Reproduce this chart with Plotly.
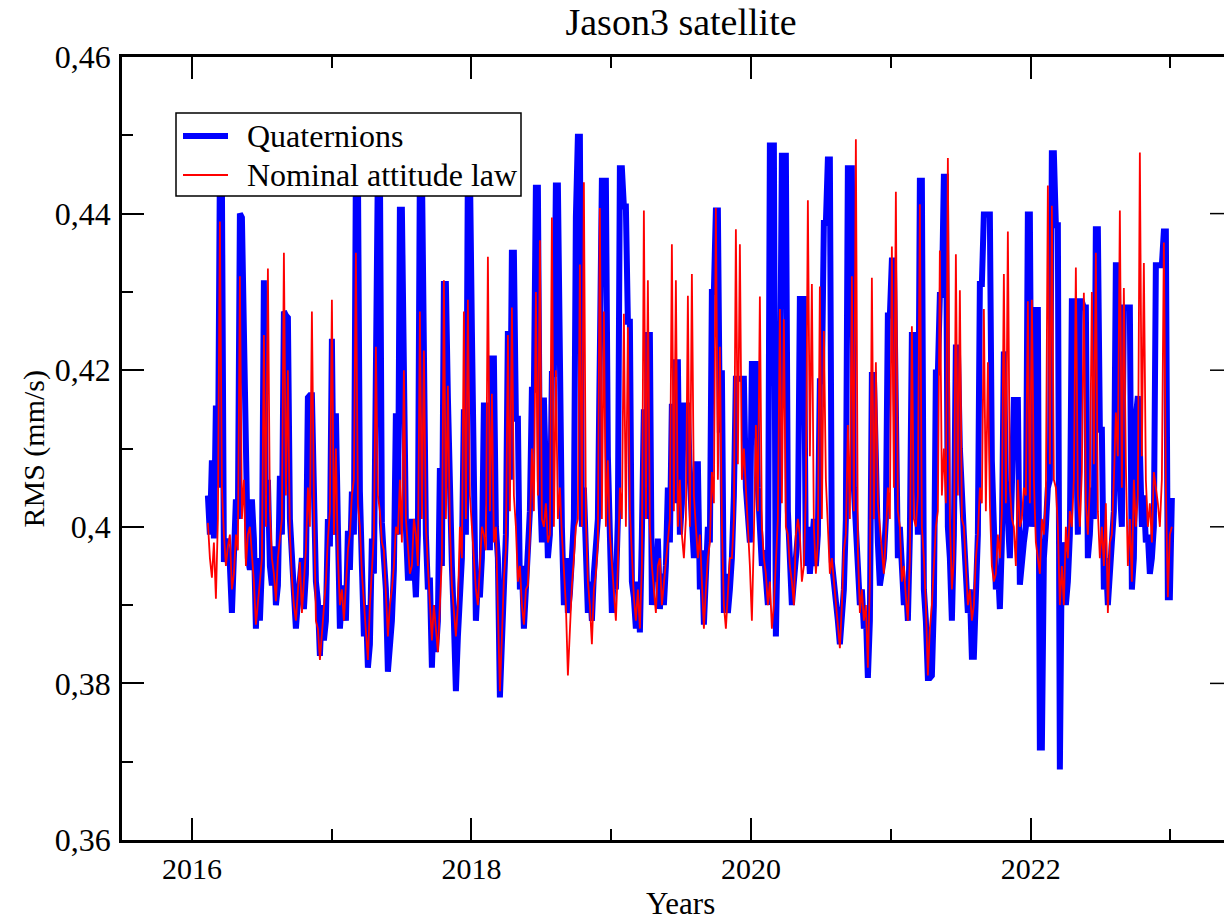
import plotly.graph_objects as go
import numpy as np

# ---- data ----
T_START = 2016.1145          # first sample (decimal year)
T_STEP = 0.014306            # sampling step (decimal year)

# samples at even slots (t = T_START + 2k*T_STEP)
quat_even = [
    0.4040, 0.4085, 0.4155, 0.4460, 0.3955, 0.3960, 0.3890, 0.4035, 0.4400, 0.4250,
    0.3960, 0.4035, 0.3870, 0.3880, 0.4315, 0.4060, 0.3925, 0.3900, 0.4065, 0.4275,
    0.4267, 0.3960, 0.3870, 0.3935, 0.3895, 0.4165, 0.4168, 0.3930, 0.3835, 0.3855,
    0.4010, 0.4240, 0.4145, 0.3870, 0.3925, 0.3995, 0.4045, 0.4460, 0.4045, 0.3860,
    0.3820, 0.3985, 0.4250, 0.4460, 0.3960, 0.3815, 0.3880, 0.4145, 0.4405, 0.4150,
    0.3935, 0.4010, 0.3910, 0.4460, 0.4120, 0.3920, 0.3820, 0.3840, 0.4075, 0.4310,
    0.4165, 0.3950, 0.3790, 0.3930, 0.4150, 0.4460, 0.4250, 0.3880, 0.3910, 0.4155,
    0.4050, 0.4215, 0.4000, 0.3782, 0.3930, 0.4250, 0.4350, 0.4138, 0.3920, 0.3870,
    0.3950, 0.4175, 0.4433, 0.4060, 0.4165, 0.3960, 0.4195, 0.4436, 0.4110, 0.3900,
    0.3890, 0.3960, 0.4396, 0.4498, 0.4050, 0.3890, 0.3880, 0.3990, 0.4224, 0.4442,
    0.4090, 0.3890, 0.3920, 0.4458, 0.4409, 0.4262, 0.3930, 0.3870, 0.3865, 0.4150,
    0.4245, 0.3900, 0.3930, 0.3895, 0.3900, 0.4050, 0.4157, 0.4210, 0.3990, 0.4155,
    0.4155, 0.4010, 0.4080, 0.3920, 0.3875, 0.4000, 0.4300, 0.4404, 0.4120, 0.3890,
    0.3890, 0.3960, 0.4189, 0.4189, 0.4189, 0.4000, 0.4208, 0.4208, 0.4000, 0.3970,
    0.3900, 0.4487, 0.3860, 0.4140, 0.4474, 0.4020, 0.3900, 0.3960, 0.4291, 0.4291,
    0.4000, 0.3980, 0.3950, 0.4186, 0.4388, 0.4469, 0.3955, 0.3900, 0.3850, 0.3920,
    0.4458, 0.4458, 0.4010, 0.3900, 0.3870, 0.3807, 0.4194, 0.4060, 0.3925, 0.3960,
    0.4270, 0.4340, 0.4050, 0.4000, 0.3900, 0.3880, 0.4245, 0.4050, 0.4442, 0.3920,
    0.3807, 0.3810, 0.4197, 0.4296, 0.4447, 0.4000, 0.3880, 0.4229, 0.4100, 0.3990,
    0.3890, 0.3834, 0.3900, 0.4310, 0.4399, 0.4399, 0.4084, 0.3920, 0.3895, 0.4224,
    0.4000, 0.4050, 0.4162, 0.3926, 0.3980, 0.4399, 0.4000, 0.4277, 0.3718, 0.3960,
    0.4050, 0.4477, 0.4385, 0.3690, 0.3960, 0.3930, 0.4288, 0.4050, 0.4288, 0.4280,
    0.3960, 0.4050, 0.4380, 0.4124, 0.3920, 0.3900, 0.4000, 0.4334, 0.4050, 0.4280,
    0.4280, 0.3920, 0.4140, 0.4100, 0.4040, 0.3990, 0.3960, 0.4334, 0.4334, 0.4377,
    0.3910, 0.4037,
]
# samples at odd slots (t = T_START + (2k+1)*T_STEP)
quat_odd = [
    0.3990, 0.3985, 0.4050, 0.4440, 0.3985, 0.3950, 0.3945, 0.4010, 0.4395, 0.4010,
    0.3945, 0.3985, 0.3960, 0.3950, 0.4010, 0.3950, 0.3975, 0.3925, 0.3990, 0.4270,
    0.4010, 0.3935, 0.3905, 0.3960, 0.3940, 0.4168, 0.4010, 0.3905, 0.3900, 0.3880,
    0.3975, 0.3990, 0.4000, 0.3910, 0.3880, 0.3945, 0.3990, 0.4460, 0.3950, 0.3900,
    0.3850, 0.3940, 0.4460, 0.4005, 0.3920, 0.3850, 0.3945, 0.3990, 0.4405, 0.4000,
    0.3935, 0.3960, 0.3990, 0.4460, 0.3990, 0.3935, 0.3900, 0.3880, 0.3950, 0.4310,
    0.4000, 0.3880, 0.3860, 0.3960, 0.3990, 0.4460, 0.3990, 0.3930, 0.3960, 0.4155,
    0.3970, 0.4215, 0.3960, 0.3860, 0.3990, 0.4060, 0.4350, 0.4138, 0.3950, 0.3930,
    0.4020, 0.4175, 0.4433, 0.3980, 0.4080, 0.3990, 0.4195, 0.4436, 0.4000, 0.3960,
    0.3915, 0.4010, 0.4498, 0.4000, 0.3960, 0.3930, 0.3940, 0.4010, 0.4442, 0.4442,
    0.3990, 0.3940, 0.4010, 0.4458, 0.4409, 0.4262, 0.3910, 0.3930, 0.3990, 0.4010,
    0.4245, 0.3960, 0.3985, 0.3940, 0.3950, 0.3980, 0.4030, 0.4210, 0.4030, 0.4155,
    0.4060, 0.3960, 0.4080, 0.3970, 0.3930, 0.3980, 0.4300, 0.4404, 0.4200, 0.3940,
    0.3920, 0.4040, 0.4189, 0.4189, 0.4050, 0.3980, 0.4208, 0.4050, 0.3950, 0.3940,
    0.4487, 0.4487, 0.3970, 0.4474, 0.4474, 0.3950, 0.3930, 0.3990, 0.4291, 0.3950,
    0.3940, 0.4010, 0.3990, 0.4186, 0.4388, 0.4469, 0.3935, 0.3880, 0.3900, 0.4010,
    0.4458, 0.4050, 0.3950, 0.3920, 0.3890, 0.3880, 0.4194, 0.3980, 0.3940, 0.4010,
    0.4270, 0.4340, 0.3960, 0.3960, 0.3930, 0.3990, 0.4245, 0.3990, 0.4442, 0.3880,
    0.3807, 0.3900, 0.4197, 0.4296, 0.4447, 0.3960, 0.3990, 0.4229, 0.4020, 0.3940,
    0.3920, 0.3834, 0.3990, 0.4310, 0.4399, 0.4399, 0.3990, 0.3950, 0.3980, 0.4060,
    0.3960, 0.4162, 0.4162, 0.3960, 0.4000, 0.4399, 0.4030, 0.4277, 0.3718, 0.4000,
    0.4060, 0.4477, 0.4385, 0.3980, 0.3900, 0.3990, 0.4288, 0.3990, 0.4288, 0.4280,
    0.3990, 0.4010, 0.4380, 0.4124, 0.3960, 0.3940, 0.4020, 0.4334, 0.4000, 0.4280,
    0.4280, 0.3960, 0.4167, 0.4000, 0.3980, 0.3940, 0.4000, 0.4334, 0.4334, 0.4377,
    0.3910,
]

nom_even = [
    0.4005, 0.3935, 0.3908, 0.4390, 0.3990, 0.3975, 0.3920, 0.3990, 0.4320, 0.4060,
    0.3990, 0.3965, 0.3875, 0.3930, 0.4245, 0.4330, 0.3960, 0.3905, 0.3990, 0.4350,
    0.4200, 0.3935, 0.3880, 0.3955, 0.3925, 0.4050, 0.4275, 0.3880, 0.3830, 0.3900,
    0.3985, 0.4290, 0.4100, 0.3900, 0.3880, 0.3970, 0.4040, 0.4350, 0.4000, 0.3900,
    0.3830, 0.3950, 0.4230, 0.4020, 0.3970, 0.3860, 0.3920, 0.4000, 0.4060, 0.4200,
    0.3980, 0.3950, 0.3990, 0.4275, 0.4225, 0.3950, 0.3855, 0.3870, 0.3900, 0.4315,
    0.4180, 0.3925, 0.3860, 0.4000, 0.4275, 0.4290, 0.4000, 0.3920, 0.3960, 0.3990,
    0.4345, 0.4170, 0.4000, 0.3790, 0.3935, 0.4245, 0.4280, 0.4000, 0.3950, 0.3875,
    0.3925, 0.4100, 0.4300, 0.4366, 0.4000, 0.3980, 0.4395, 0.4200, 0.4050, 0.3950,
    0.3810, 0.3925, 0.4000, 0.4335, 0.4440, 0.3930, 0.3850, 0.3940, 0.4407, 0.4275,
    0.4085, 0.3950, 0.3880, 0.4050, 0.4272, 0.4255, 0.3960, 0.3880, 0.3870, 0.4404,
    0.4315, 0.3950, 0.3890, 0.3960, 0.3930, 0.3980, 0.4361, 0.4315, 0.4060, 0.3960,
    0.4295, 0.4323, 0.4000, 0.3990, 0.3870, 0.3960, 0.4070, 0.4407, 0.4230, 0.3900,
    0.3920, 0.3960, 0.4380, 0.4361, 0.4100, 0.4000, 0.3880, 0.4130, 0.4294, 0.3960,
    0.3900, 0.3870, 0.3960, 0.4278, 0.4265, 0.3990, 0.3930, 0.3990, 0.3990, 0.3950,
    0.4417, 0.4310, 0.3940, 0.4307, 0.4250, 0.4000, 0.3960, 0.3900, 0.3845, 0.3970,
    0.4130, 0.4320, 0.4495, 0.3890, 0.3880, 0.3820, 0.4318, 0.4210, 0.4000, 0.3940,
    0.4050, 0.4358, 0.4428, 0.4000, 0.3950, 0.3880, 0.4256, 0.4000, 0.4412, 0.3960,
    0.3810, 0.3900, 0.4000, 0.4353, 0.4100, 0.4471, 0.3920, 0.4348, 0.4302, 0.4000,
    0.3900, 0.3880, 0.3960, 0.4050, 0.4278, 0.4210, 0.3950, 0.3940, 0.3960, 0.4323,
    0.4377, 0.4010, 0.3950, 0.4000, 0.4050, 0.4288, 0.4290, 0.3980, 0.3940, 0.3990,
    0.4436, 0.4410, 0.4050, 0.3900, 0.3900, 0.3960, 0.4000, 0.4331, 0.4000, 0.4299,
    0.3990, 0.4300, 0.4350, 0.3960, 0.3950, 0.3890, 0.3990, 0.4146, 0.4404, 0.4305,
    0.3950, 0.3930, 0.4000, 0.4478, 0.4337, 0.4000, 0.3980, 0.4050, 0.4000, 0.4363,
    0.3910, 0.4000,
]
nom_odd = [
    0.3960, 0.3980, 0.4010, 0.4050, 0.3950, 0.3990, 0.3940, 0.3970, 0.4010, 0.3950,
    0.4000, 0.3930, 0.3900, 0.3960, 0.4000, 0.4020, 0.3940, 0.3960, 0.4010, 0.4040,
    0.3990, 0.3900, 0.3920, 0.3890, 0.3970, 0.4000, 0.4030, 0.3870, 0.3860, 0.3930,
    0.4020, 0.3990, 0.3960, 0.3920, 0.3930, 0.3990, 0.4060, 0.4030, 0.3940, 0.3870,
    0.3900, 0.3990, 0.4040, 0.3980, 0.3910, 0.3900, 0.3950, 0.3990, 0.3980, 0.4010,
    0.3940, 0.4010, 0.3950, 0.4010, 0.4000, 0.3900, 0.3900, 0.3840, 0.3960, 0.4010,
    0.4000, 0.3890, 0.3900, 0.3960, 0.4010, 0.4040, 0.3960, 0.3900, 0.4000, 0.3970,
    0.4020, 0.3980, 0.3880, 0.3860, 0.3970, 0.4020, 0.4040, 0.3930, 0.3900, 0.3920,
    0.3990, 0.4020, 0.4040, 0.4010, 0.4030, 0.3990, 0.4000, 0.4010, 0.3990, 0.3900,
    0.3870, 0.3960, 0.4010, 0.4000, 0.4010, 0.3900, 0.3920, 0.3980, 0.4010, 0.4000,
    0.3990, 0.3920, 0.3950, 0.4010, 0.4000, 0.4020, 0.3910, 0.3920, 0.3950, 0.4010,
    0.4000, 0.3920, 0.3950, 0.3900, 0.3960, 0.4010, 0.4020, 0.4000, 0.3990, 0.4010,
    0.4000, 0.4040, 0.3960, 0.3920, 0.3920, 0.3980, 0.4030, 0.4060, 0.4000, 0.3870,
    0.3960, 0.4010, 0.4080, 0.4060, 0.4040, 0.3950, 0.3990, 0.4020, 0.4000, 0.3940,
    0.3930, 0.3900, 0.4010, 0.4030, 0.4000, 0.3950, 0.3900, 0.4010, 0.3930, 0.4040,
    0.4090, 0.4000, 0.3980, 0.4010, 0.4060, 0.3940, 0.3930, 0.3880, 0.3900, 0.3990,
    0.4010, 0.4020, 0.3970, 0.3920, 0.3900, 0.3930, 0.4010, 0.4030, 0.3960, 0.3990,
    0.4010, 0.4050, 0.4020, 0.3930, 0.3910, 0.3960, 0.4010, 0.4040, 0.4000, 0.3900,
    0.3870, 0.3950, 0.4020, 0.4040, 0.4030, 0.4010, 0.3960, 0.4040, 0.4010, 0.3950,
    0.3920, 0.3900, 0.3990, 0.4030, 0.4020, 0.4030, 0.3930, 0.3990, 0.4020, 0.4030,
    0.4050, 0.4000, 0.4060, 0.4010, 0.4040, 0.4030, 0.4060, 0.3960, 0.4010, 0.4040,
    0.4080, 0.4060, 0.4000, 0.3950, 0.4000, 0.4020, 0.4060, 0.4040, 0.4070, 0.4030,
    0.4050, 0.4080, 0.4020, 0.4000, 0.4030, 0.3980, 0.4060, 0.4090, 0.4050, 0.4080,
    0.4010, 0.4060, 0.4040, 0.4090, 0.4060, 0.4030, 0.4070, 0.4030, 0.4060, 0.4050,
    0.3990,
]

x_major = [2016, 2018, 2020, 2022]
x_minor = [2017, 2019, 2021, 2023]
y_major = [0.36, 0.38, 0.40, 0.42, 0.44, 0.46]
y_major_text = ["0,36", "0,38", "0,4", "0,42", "0,44", "0,46"]
y_minor = [0.37, 0.39, 0.41, 0.43, 0.45]
series_names = ["Quaternions", "Nominal attitude law"]


def merge(even, odd):
    t, v = [], []
    for k, val in enumerate(even):
        t.append(T_START + 2 * k * T_STEP)
        v.append(val)
        if k < len(odd):
            t.append(T_START + (2 * k + 1) * T_STEP)
            v.append(odd[k])
    return np.array(t), np.array(v)


t_q, quaternions = merge(quat_even, quat_odd)
t_n, nominal_law = merge(nom_even, nom_odd)

FONT = "Liberation Serif, Times New Roman, serif"
BLUE = "rgb(0,0,255)"
RED = "rgb(255,0,0)"

# plot area in pixels
L, R, T, B = 122, 1224, 57, 840


def px(x):
    return (x - L) / (R - L)


def py(y):
    return (B - y) / (B - T)


fig = go.Figure()
fig.add_trace(go.Scatter(x=t_q, y=quaternions, mode="lines", name=series_names[0],
                         line=dict(color=BLUE, width=6), showlegend=False))
fig.add_trace(go.Scatter(x=t_n, y=nominal_law, mode="lines", name=series_names[1],
                         line=dict(color=RED, width=1.8), showlegend=False))

axis_common = dict(
    showline=True, linewidth=2.5, linecolor="black",
    ticks="inside", ticklen=22, tickwidth=1.5, tickcolor="black",
    showgrid=False, zeroline=False,
)

fig.update_xaxes(range=[2015.5, 2023.383], tickmode="array", tickvals=x_major,
                 ticktext=[str(v) for v in x_major], mirror="ticks",
                 tickfont=dict(family=FONT, size=30, color="black"),
                 minor=dict(tickvals=x_minor, ticks="inside", ticklen=11, tickwidth=1.5,
                            tickcolor="black", showgrid=False),
                 **axis_common)
fig.update_yaxes(range=[0.36, 0.46], tickmode="array", tickvals=y_major,
                 ticktext=y_major_text, mirror=False, ticklabelstandoff=2,
                 tickfont=dict(family=FONT, size=32, color="black"),
                 minor=dict(tickvals=y_minor, ticks="inside", ticklen=11, tickwidth=1.5,
                            tickcolor="black", showgrid=False),
                 **axis_common)

shapes = []
# right-hand major ticks (the right frame edge lies just outside the picture)
for yv in y_major[1:-1]:
    shapes.append(dict(type="line", xref="paper", yref="y", x0=1 - 14 / (R - L), x1=1,
                       y0=yv, y1=yv, line=dict(color="black", width=1.5)))
# legend box and samples
shapes.append(dict(type="rect", xref="paper", yref="paper", x0=px(176), x1=px(521),
                   y0=py(196), y1=py(113), fillcolor="white",
                   line=dict(color="black", width=1.5), layer="above"))
shapes.append(dict(type="line", xref="paper", yref="paper", x0=px(183), x1=px(228),
                   y0=py(136), y1=py(136), line=dict(color=BLUE, width=6), layer="above"))
shapes.append(dict(type="line", xref="paper", yref="paper", x0=px(183), x1=px(228),
                   y0=py(175), y1=py(175), line=dict(color=RED, width=1.8), layer="above"))

annotations = [
    dict(text=series_names[0], xref="paper", yref="paper", x=px(245), y=py(136),
         xanchor="left", yanchor="middle", showarrow=False,
         font=dict(family=FONT, size=32, color="black")),
    dict(text=series_names[1], xref="paper", yref="paper", x=px(245), y=py(175),
         xanchor="left", yanchor="middle", showarrow=False,
         font=dict(family=FONT, size=32, color="black")),
    dict(text="RMS (mm/s)", textangle=-90, xref="paper", yref="paper",
         x=px(33), y=0.5, xanchor="center", yanchor="middle",
         showarrow=False, font=dict(family=FONT, size=30, color="black")),
    dict(text="Years", xref="paper", yref="paper",
         x=px(680), y=py(903), xanchor="center", yanchor="middle",
         showarrow=False, font=dict(family=FONT, size=31, color="black")),
]

fig.update_layout(
    width=1224, height=922,
    margin=dict(l=L, r=1224 - R, t=T, b=922 - B),
    paper_bgcolor="white", plot_bgcolor="white",
    font=dict(family=FONT, size=30, color="black"),
    title=dict(text="Jason3 satellite", x=681 / 1224, xanchor="center",
               y=1 - 22 / 922, yanchor="middle", yref="container",
               font=dict(family=FONT, size=38, color="black")),
    showlegend=False,
    shapes=shapes,
    annotations=annotations,
)

fig.write_html("out.html")
